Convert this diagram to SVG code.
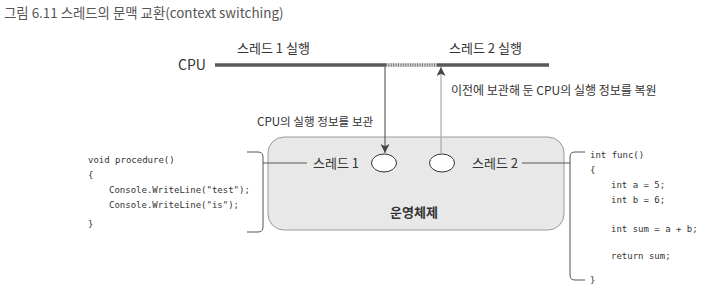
<svg xmlns="http://www.w3.org/2000/svg" width="717" height="297" viewBox="0 0 717 297">
<defs>
<style>
.kr{font-family:"Noto Sans CJK KR","Noto Sans",sans-serif;fill:#333}
.code{font-family:"DejaVu Sans Mono","Liberation Mono",monospace;font-size:9px;fill:#333}
.ln{stroke:#555;stroke-width:1;fill:none}
</style>
<marker id="ah" viewBox="0 0 10 10" refX="10" refY="5" markerWidth="9" markerHeight="9" orient="auto" markerUnits="userSpaceOnUse">
<path d="M0,0 L10,5 L0,10 L2.5,5 Z" fill="#444"/>
</marker>
</defs>
<rect width="717" height="297" fill="#fff"/>
<text class="kr" x="4" y="18" font-size="13.4" style="fill:#555">그림 6.11 스레드의 문맥 교환(context switching)</text>

<g id="cpu">
<text class="kr" x="178" y="70" font-size="14">CPU</text>
<line x1="215" y1="65" x2="386" y2="65" stroke="#595959" stroke-width="3.5"/>
<line x1="386" y1="65" x2="437" y2="65" stroke="#d4d4d4" stroke-width="3.5"/>
<line x1="386" y1="65" x2="437" y2="65" stroke="#7a7a7a" stroke-width="3.5" stroke-dasharray="1 1.4"/>
<line x1="437" y1="65" x2="549" y2="65" stroke="#595959" stroke-width="3.5"/>
<text class="kr" x="237" y="53" font-size="13">스레드 1 실행</text>
<text class="kr" x="449" y="53" font-size="13">스레드 2 실행</text>
</g>

<g id="os">
<rect x="268" y="137" width="296" height="93" rx="16" ry="16" fill="#e8e8e8" stroke="#9a9a9a" stroke-width="1"/>
<ellipse id="t1" cx="384" cy="163" rx="12.5" ry="9" fill="#fff" stroke="#333" stroke-width="1"/>
<ellipse id="t2" cx="442" cy="163" rx="12.5" ry="9" fill="#fff" stroke="#333" stroke-width="1"/>
<text class="kr" x="313" y="168" font-size="13">스레드 1</text>
<text class="kr" x="472" y="168" font-size="13">스레드 2</text>
<text class="kr" x="414" y="217" font-size="13" font-weight="bold" text-anchor="middle">운영체제</text>
</g>

<g id="code1">
<text class="code" x="88" y="163">void procedure()</text>
<text class="code" x="88" y="178">{</text>
<text class="code" x="109" y="193">Console.WriteLine("test");</text>
<text class="code" x="109" y="208">Console.WriteLine("is");</text>
<text class="code" x="88" y="227">}</text>
</g>

<g id="code2">
<text class="code" x="590" y="158">int func()</text>
<text class="code" x="590" y="173">{</text>
<text class="code" x="611" y="188">int a = 5;</text>
<text class="code" x="611" y="203">int b = 6;</text>
<text class="code" x="611" y="232">int sum = a + b;</text>
<text class="code" x="611" y="259">return sum;</text>
<text class="code" x="590" y="283">}</text>
</g>

<g id="connectors">
<line x1="385" y1="67" x2="385" y2="153" stroke="#444" stroke-width="1" marker-end="url(#ah)"/>
<line x1="441" y1="154" x2="441" y2="67" stroke="#aaa" stroke-width="1.2" marker-end="url(#ah)"/>
<text class="kr" x="451" y="95" font-size="12">이전에 보관해 둔 CPU의 실행 정보를 복원</text>
<text class="kr" x="257" y="126" font-size="11.6">CPU의 실행 정보를 보관</text>
<path class="ln" d="M247,152 H258 Q263,152 263,157 V227 Q263,232 258,232 H247"/>
<line class="ln" x1="263" y1="163" x2="307" y2="163"/>
<path class="ln" d="M585,152 H575 Q570,152 570,157 V275 Q570,280 575,280 H585"/>
<line class="ln" x1="522" y1="163" x2="570" y2="163"/>
</g>
</svg>
